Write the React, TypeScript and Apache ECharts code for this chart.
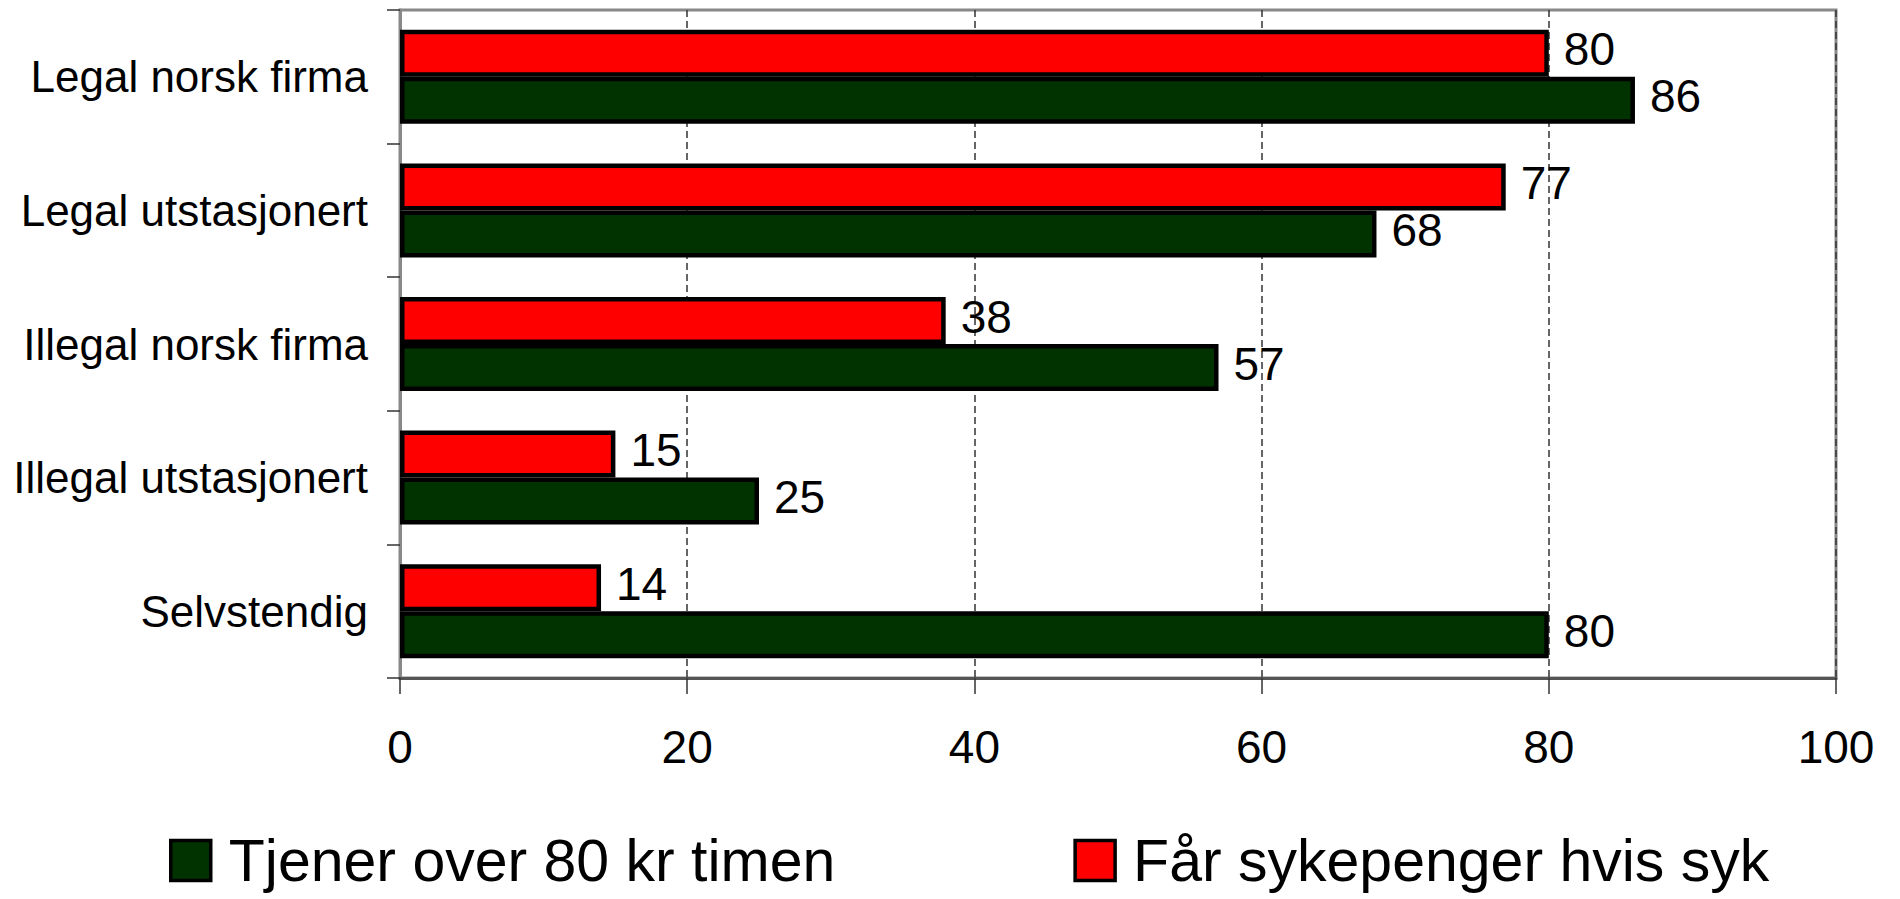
import React, { useEffect, useRef } from "react";
import * as echarts from "echarts";

const categories = [
  "Legal norsk firma",
  "Legal utstasjonert",
  "Illegal norsk firma",
  "Illegal utstasjonert",
  "Selvstendig",
];
const seriesNames = ["Tjener over 80 kr timen", "Får sykepenger hvis syk"];
const tjenerValues = [86, 68, 57, 25, 80];
const sykepengerValues = [80, 77, 38, 15, 14];
const xTicks = { min: 0, max: 100, interval: 20 };

const FONT = "'Liberation Sans', Arial, sans-serif";

export default function App() {
  const ref = useRef<HTMLDivElement>(null);
  useEffect(() => {
    if (!ref.current) return;
    const chart = echarts.init(ref.current, undefined, { renderer: "svg" });
    const label = {
      show: true,
      position: "right",
      distance: 15,
      offset: [0, -4],
      fontSize: 46,
      color: "#000",
      fontFamily: FONT,
    };
    chart.setOption({
      animation: false,
      backgroundColor: "#fff",
      textStyle: { fontFamily: FONT },
      grid: {
        left: 400,
        right: 64,
        top: 10,
        bottom: 221,
        show: true,
        borderColor: "#888",
        borderWidth: 3,
        backgroundColor: "transparent",
      },
      legend: {
        data: [seriesNames[0], seriesNames[1]],
        left: 164,
        top: 826,
        itemWidth: 40,
        itemHeight: 40,
        itemGap: 238,
        icon: "rect",
        itemStyle: { borderColor: "#000", borderWidth: 3.5 },
        textStyle: {
          fontSize: 59,
          color: "#000",
          fontFamily: FONT,
          padding: [0, 0, 0, 13],
        },
      },
      xAxis: {
        type: "value",
        min: xTicks.min,
        max: xTicks.max,
        interval: xTicks.interval,
        axisLine: { show: true, lineStyle: { color: "#555", width: 3 } },
        axisTick: { show: true, length: 16, lineStyle: { color: "#333", width: 1.5 } },
        axisLabel: { fontSize: 46, color: "#000", margin: 46, fontFamily: FONT },
        splitLine: {
          show: true,
          lineStyle: { color: "#333", width: 1.5, type: [7, 4] },
        },
      },
      yAxis: {
        type: "category",
        data: categories,
        inverse: true,
        axisLine: { show: true, lineStyle: { color: "#888", width: 3 } },
        axisTick: { show: true, length: 13, lineStyle: { color: "#333", width: 1.5 } },
        axisLabel: { fontSize: 44, color: "#000", margin: 32, fontFamily: FONT },
        splitLine: { show: false },
      },
      series: [
        {
          name: seriesNames[1],
          type: "bar",
          data: sykepengerValues,
          barWidth: 47,
          barGap: "0%",
          itemStyle: { color: "#ff0000", borderColor: "#000", borderWidth: 4.5 },
          label,
        },
        {
          name: seriesNames[0],
          type: "bar",
          data: tjenerValues,
          barWidth: 47,
          barGap: "0%",
          itemStyle: { color: "#003300", borderColor: "#000", borderWidth: 4.5 },
          label,
        },
      ],
    });
    return () => chart.dispose();
  }, []);
  return (
    <div
      ref={ref}
      style={{ position: "fixed", left: 0, top: 0, width: 1900, height: 899 }}
    />
  );
}
